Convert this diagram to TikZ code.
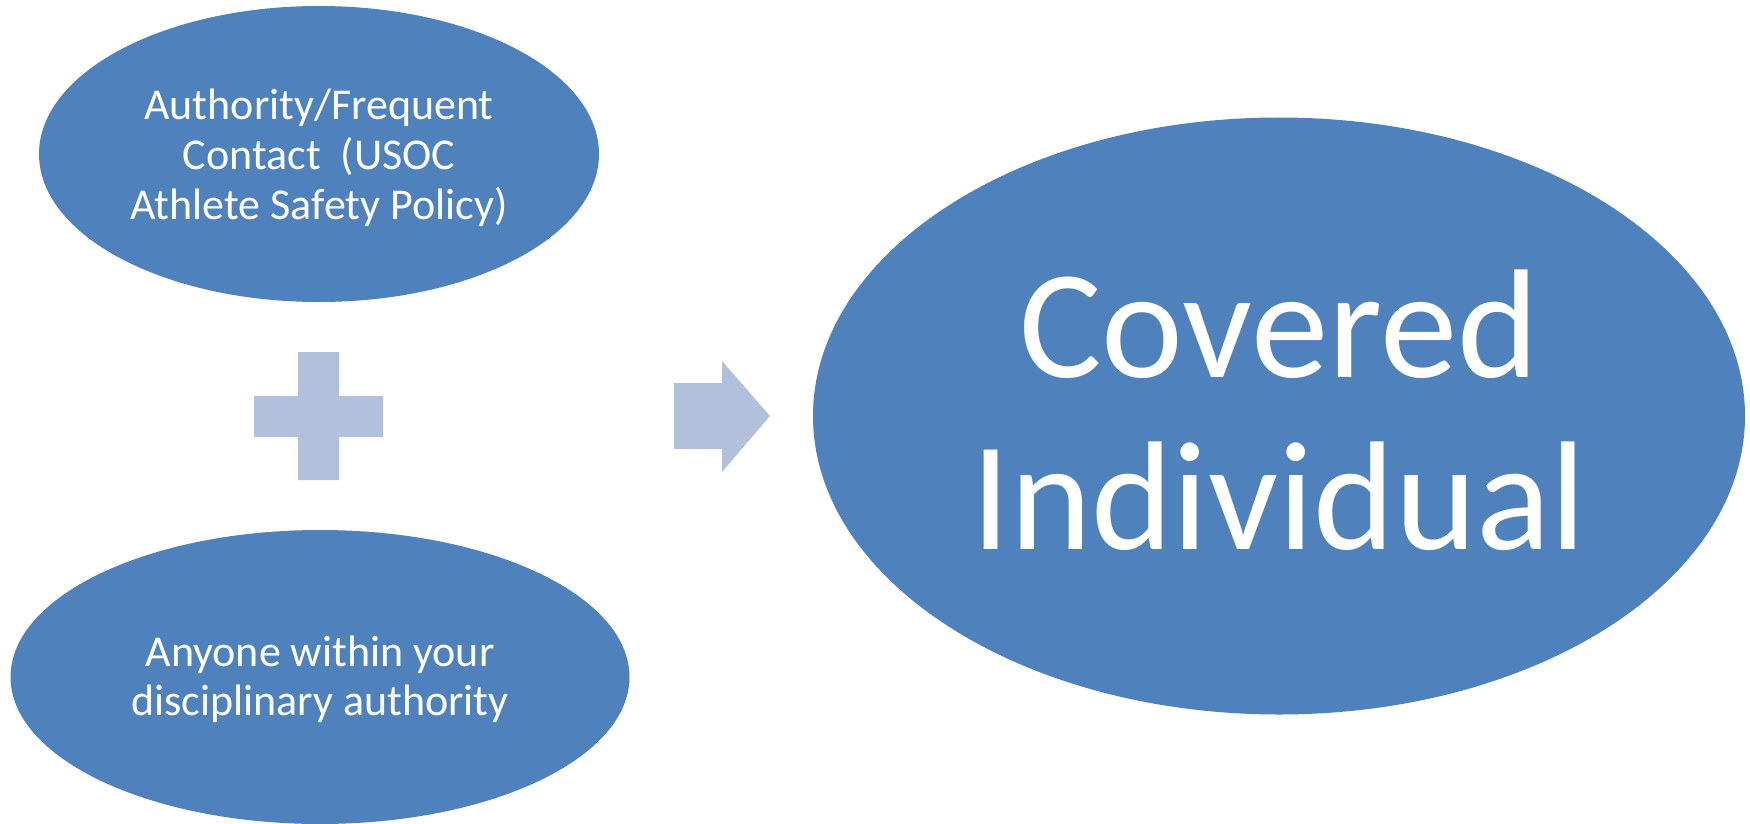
\documentclass[tikz,border=0pt]{standalone}
\usepackage{fontspec}
\setmainfont{Carlito}
\usepackage{xcolor}
\usetikzlibrary{shapes.geometric}
\definecolor{OfficeBlue}{HTML}{4F81BD}
\definecolor{PaleBlue}{HTML}{B2C1DB}
\tikzset{group/.style={ellipse, fill=OfficeBlue, draw=none, text=white, inner sep=0pt, align=center, font=\fontsize{22}{24.9}\selectfont}}
\tikzset{result/.style={ellipse, fill=OfficeBlue, draw=none, text=white, inner sep=0pt, align=center, font=\fontsize{77.5}{86}\selectfont}}
\tikzset{sign/.style={fill=PaleBlue, draw=none}}

\begin{document}
\begin{tikzpicture}[
	x=0.5pt,
	y=-0.5pt,
	]
	\useasboundingbox (0,0) rectangle (1750,824);
	\node [group, minimum width=280pt, minimum height=148pt]     (AUTH) at (319,154) {\rule{0pt}{19pt}Authority/Frequent\\Contact\ \ (USOC\\Athlete Safety Policy)};
	\node [group, minimum width=309.5pt, minimum height=147pt]   (DISC) at (320,677) {\rule{0pt}{17.5pt}Anyone within your\\disciplinary authority};
	\node [result, minimum width=466pt, minimum height=298.5pt]  (COV) at (1279,416) {Covered\\Individual\rule[-6pt]{0pt}{6pt}};
	
	% plus sign
	\fill[sign] (298,352) -- (339,352) -- (339,396) -- (383,396) -- (383,437) -- (339,437)
	-- (339,480) -- (298,480) -- (298,437) -- (254,437) -- (254,396) -- (298,396) -- cycle;
	% arrow
	\fill[sign] (674,383) -- (722,383) -- (722,361) -- (770,416) -- (722,472) -- (722,449) -- (674,449) -- cycle;
\end{tikzpicture}
\end{document}
